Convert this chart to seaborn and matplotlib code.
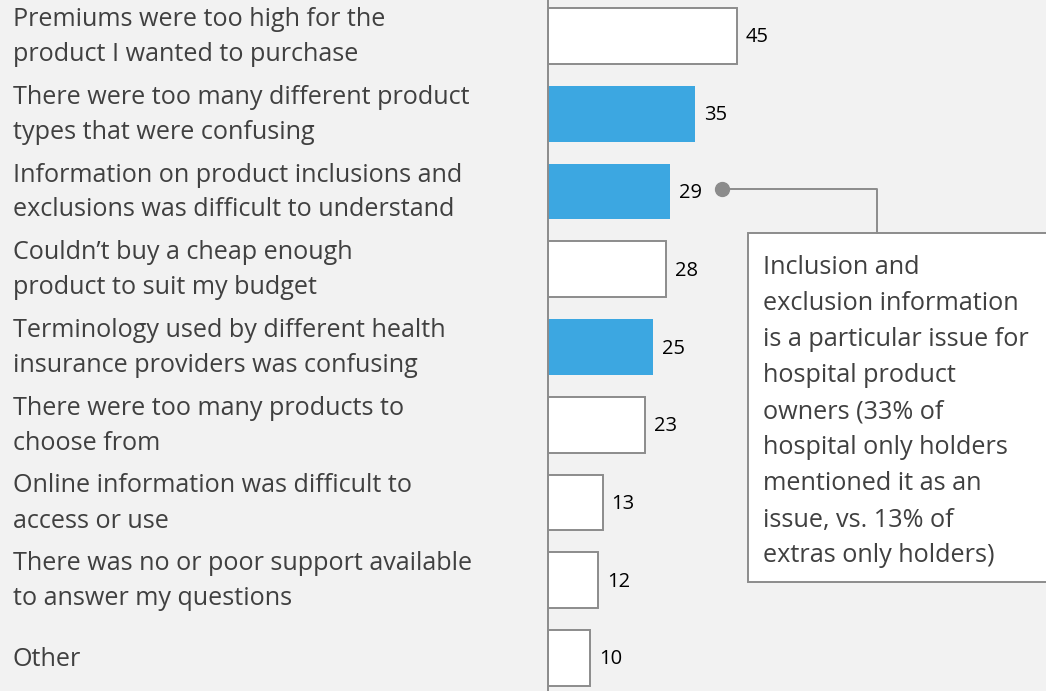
import matplotlib
matplotlib.use("Agg")
import matplotlib.pyplot as plt
import seaborn as sns
from matplotlib.patches import Rectangle
from matplotlib.transforms import blended_transform_factory

# Datos
categorias = [
    "Premiums were too high for the\nproduct I wanted to purchase",
    "There were too many different product\ntypes that were confusing",
    "Information on product inclusions and\nexclusions was difficult to understand",
    "Couldn\u2019t buy a cheap enough\nproduct to suit my budget",
    "Terminology used by different health\ninsurance providers was confusing",
    "There were too many products to\nchoose from",
    "Online information was difficult to\naccess or use",
    "There was no or poor support available\nto answer my questions",
    "Other",
]
valores = [45, 35, 29, 28, 25, 23, 13, 12, 10]
destacados = [False, True, True, False, True, False, False, False, False]
nota = [
    "Inclusion and",
    "exclusion information",
    "is a particular issue for",
    "hospital product",
    "owners (33% of",
    "hospital only holders",
    "mentioned it as an",
    "issue, vs. 13% of",
    "extras only holders)",
]

azul = "#3ca7e1"
gris = "#8c8c8c"
fondo = "#f2f2f2"

sns.set_style("white")
plt.rcParams['font.family'] = ['Open Sans', 'DejaVu Sans']

fig = plt.figure(figsize=(10.46, 6.91), dpi=100)
fig.patch.set_facecolor(fondo)
ax = fig.add_axes([548 / 1046, 0, 498 / 1046, 1])
ax.set_facecolor(fondo)

colores = [azul if d else "white" for d in destacados]
sns.barplot(x=valores, y=categorias, hue=categorias, palette=colores,
            legend=False, width=0.72, ax=ax, saturation=1)
for barra, d in zip(ax.patches, destacados):
    barra.set_edgecolor(azul if d else gris)
    barra.set_linewidth(0 if d else 1.4)

escala = 4.2  # px por unidad
paso = 77.75  # px por categoria
ax.set_xlim(0, 498 / escala)
ax.set_ylim((691 - 36) / paso, -36 / paso)

for s in ["top", "right", "bottom"]:
    ax.spines[s].set_visible(False)
ax.spines["left"].set_color(gris)
ax.spines["left"].set_linewidth(1.4)
ax.set_xticks([])
ax.set_yticks([])
ax.set_xlabel("")
ax.set_ylabel("")

# valores
for i, v in enumerate(valores):
    ax.text(v + 9 / escala, i + 1.5 / paso, str(v), va="center", ha="left",
            fontsize=14.5, color="black")

# etiquetas a la izquierda
trans = blended_transform_factory(fig.transFigure, ax.transData)
for i, cat in enumerate(categorias):
    lineas = cat.split("\n")
    n = len(lineas)
    for j, linea in enumerate(lineas):
        dy = (j - (n - 1) / 2) * 35 / paso
        ax.text(13 / 1046, i + 1 / paso + dy, linea, transform=trans,
                va="center", ha="left", fontsize=18.1, color="#404040")

# anotacion
x_punto = valores[2] + 12.5
x_codo = (877 - 548) / escala
y_caja = (233 - 36) / paso
ax.plot([x_punto], [2 - 3 / paso], "o", color=gris, markersize=10, clip_on=False)
ax.plot([x_punto, x_codo, x_codo], [2 - 3 / paso, 2 - 3 / paso, y_caja],
        color=gris, lw=1.4)
ax.add_patch(Rectangle(((748 - 548) / escala, y_caja), 120, (582 - 233) / paso,
                       facecolor="white", edgecolor=gris, lw=1.4))
for k, linea in enumerate(nota):
    ax.text((763 - 548) / escala, (268 - 36 + 36 * k) / paso, linea,
            va="center", ha="left", fontsize=18.2, color="#404040")

fig.savefig("out.png", dpi=100, facecolor=fondo)
